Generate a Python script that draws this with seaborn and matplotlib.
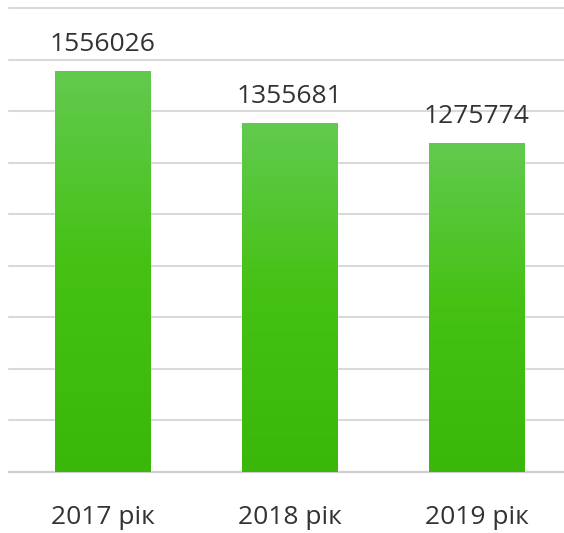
import numpy as np
import pandas as pd
import matplotlib
matplotlib.use("Agg")
import matplotlib.pyplot as plt
import matplotlib.patheffects as pe
from matplotlib.colors import LinearSegmentedColormap
import seaborn as sns

categories = ["2017 рік", "2018 рік", "2019 рік"]
values = [1556026, 1355681, 1275774]
label_texts = ["1556026", "1355681", "1275774"]

sns.set_theme(style="white")
plt.rcParams["font.family"] = ["Open Sans", "DejaVu Sans"]

df = pd.DataFrame({"cat": categories, "val": values})

fig = plt.figure(figsize=(5.64, 5.33), dpi=100)
ax = fig.add_axes([9 / 564, (533 - 471.7) / 533, 561 / 564, (471.7 - 8.3) / 533])

sns.barplot(data=df, x="cat", y="val", ax=ax, color="#4cc02a", width=0.51,
            saturation=1, zorder=3)

ax.set_ylim(0, 1800000)
ax.set_xlim(-0.5, 2.5)
ax.set_yticks(np.arange(0, 1800001, 200000))
ax.yaxis.grid(True, color="#d9d9d9", linewidth=1.5, zorder=0)
ax.set_axisbelow(True)
for s in ["top", "right", "left"]:
    ax.spines[s].set_visible(False)
ax.spines["bottom"].set_color("#cfcfcf")
ax.spines["bottom"].set_linewidth(1.6)
ax.spines["bottom"].set_zorder(2)
ax.set_xlabel("")
ax.set_ylabel("")
ax.tick_params(axis="y", left=False, labelleft=False)
ax.tick_params(axis="x", bottom=False, pad=18, labelsize=19, labelcolor="#333333")

cmap = LinearSegmentedColormap.from_list("g", ["#3ab809", "#44c112", "#62ca4f"])
grad = np.linspace(0, 1, 256).reshape(-1, 1)
for patch, lab in zip(ax.patches, label_texts):
    patch.set_path_effects([pe.SimplePatchShadow(offset=(0, -1), shadow_rgbFace="#888888", alpha=0.35),
                            pe.Normal()])
    x0, y0 = patch.get_x(), patch.get_y()
    w, h = patch.get_width(), patch.get_height()
    im = ax.imshow(grad, cmap=cmap, origin="lower", aspect="auto",
                   extent=[x0, x0 + w, y0, y0 + h], zorder=4, interpolation="bicubic")
    im.set_clip_path(patch)
    ax.annotate(lab, (x0 + w / 2, y0 + h), xytext=(0, 14.4), textcoords="offset points",
                ha="center", va="baseline", fontsize=19, color="#333333", zorder=5)

ax.set_xlim(-0.5, 2.5)
ax.set_ylim(0, 1800000)
for gl in ax.get_ygridlines():
    gl.set_clip_on(False)

fig.savefig("out.png", dpi=100)
